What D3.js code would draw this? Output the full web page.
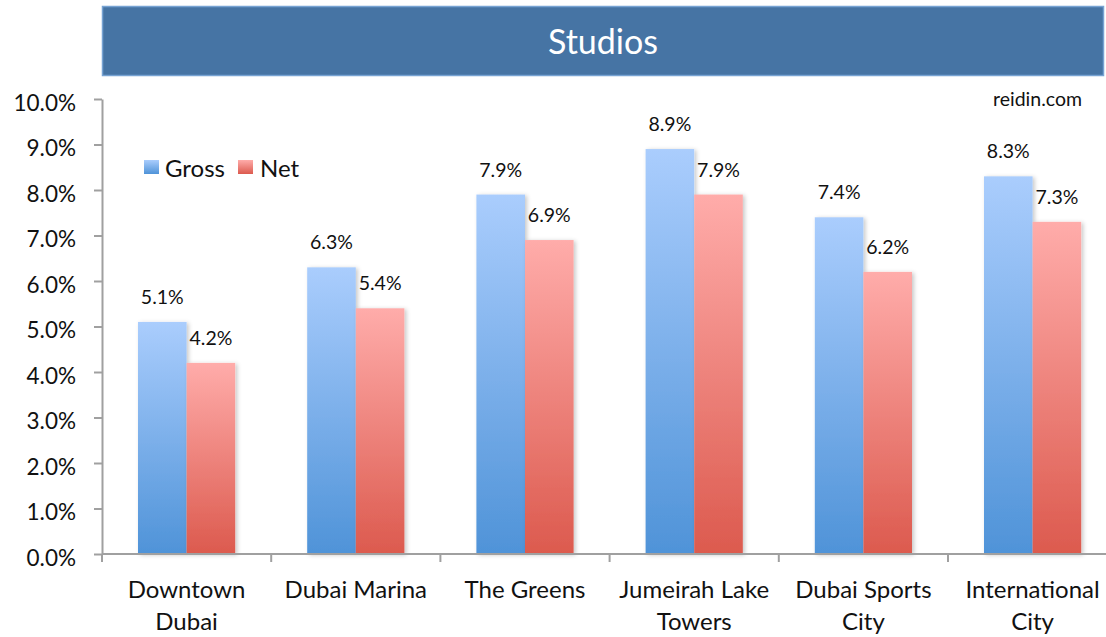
<!DOCTYPE html>
<html>
<head>
<meta charset="utf-8">
<script src="https://cdn.jsdelivr.net/npm/d3@7"></script>
<style>
  html, body { margin: 0; padding: 0; background: #fff; }
  svg { display: block; font-family: Lato, "Open Sans", sans-serif; }
</style>
</head>
<body>
<svg id="chart" width="1106" height="637"></svg>
<script>
// Studio rental yields by area (percent)
const categories = ["Downtown Dubai", "Dubai Marina", "The Greens", "Jumeirah Lake Towers", "Dubai Sports City", "International City"];
const categoryLines = [["Downtown", "Dubai"], ["Dubai Marina"], ["The Greens"], ["Jumeirah Lake", "Towers"], ["Dubai Sports", "City"], ["International", "City"]];
const seriesNames = ["Gross", "Net"];
const gross = [5.1, 6.3, 7.9, 8.9, 7.4, 8.3];
const net = [4.2, 5.4, 6.9, 7.9, 6.2, 7.3];
const yTicks = [0, 1, 2, 3, 4, 5, 6, 7, 8, 9, 10];
const title = "Studios";
const source = "reidin.com";

const svg = d3.select("#chart");
const W = 1106;
const plotLeft = 102, plotBottom = 554, plotTop = 99;
const bandW = 169.2;

const x = d3.scaleBand().domain(categories).range([plotLeft, plotLeft + bandW * categories.length]).padding(0);
const xs = d3.scaleBand().domain(seriesNames).range([36, bandW - 36]).padding(0);
const y = d3.scaleLinear().domain([0, 10]).range([plotBottom, plotTop]);

const defs = svg.append("defs");
const grads = {
  Gross: ["#aacdfd", "#4f93d8"],
  Net: ["#ffacaa", "#dc5a4e"]
};
Object.entries(grads).forEach(([k, c]) => {
  const g = defs.append("linearGradient").attr("id", "g-" + k)
    .attr("x1", 0).attr("y1", 0).attr("x2", 0).attr("y2", 1);
  g.append("stop").attr("offset", "0%").attr("stop-color", c[0]);
  g.append("stop").attr("offset", "100%").attr("stop-color", c[1]);
});
const f = defs.append("filter").attr("id", "shadow")
  .attr("x", "-20%").attr("y", "-20%").attr("width", "140%").attr("height", "140%");
f.append("feDropShadow").attr("dx", 2).attr("dy", 1).attr("stdDeviation", 2)
  .attr("flood-color", "#000").attr("flood-opacity", 0.22);

// Title banner
svg.append("rect")
  .attr("x", 102.5).attr("y", 6.5).attr("width", 1001).attr("height", 69)
  .attr("fill", "#4674a4").attr("stroke", "#77a3d3").attr("stroke-width", 1.5);
svg.append("text")
  .attr("x", 603).attr("y", 42).attr("dy", "0.35em")
  .attr("text-anchor", "middle").attr("fill", "#fff")
  .attr("font-size", 34).text(title);

// Source note
svg.append("text")
  .attr("x", 1082).attr("y", 106).attr("text-anchor", "end")
  .attr("font-size", 19.5).attr("fill", "#111").text(source);

// Bars
const rows = categories.map((c, i) => ({ c, vals: [{ k: "Gross", v: gross[i] }, { k: "Net", v: net[i] }] }));
const groups = svg.append("g").selectAll("g").data(rows).join("g")
  .attr("transform", d => `translate(${x(d.c)},0)`);

groups.selectAll("rect").data(d => d.vals).join("rect")
  .attr("x", d => xs(d.k))
  .attr("y", d => y(d.v))
  .attr("width", xs.bandwidth())
  .attr("height", d => y(0) - y(d.v))
  .attr("fill", d => `url(#g-${d.k})`)
  .attr("filter", "url(#shadow)");

groups.selectAll("text.val").data(d => d.vals).join("text")
  .attr("class", "val")
  .attr("x", d => xs(d.k) + xs.bandwidth() / 2)
  .attr("y", d => y(d.v) - 18)
  .attr("text-anchor", "middle")
  .attr("font-size", 19.5).attr("fill", "#111")
  .text(d => d.v.toFixed(1) + "%");

// Y axis
const yAxis = svg.append("g").attr("transform", `translate(${plotLeft},0)`)
  .call(d3.axisLeft(y).tickValues(yTicks).tickSize(8).tickSizeOuter(0)
    .tickFormat(d => d.toFixed(1) + "%").tickPadding(18));
yAxis.select(".domain").attr("stroke", "#a0a0a0").attr("stroke-width", 2);
yAxis.selectAll(".tick line").attr("stroke", "#a0a0a0").attr("stroke-width", 2);
yAxis.selectAll(".tick text").attr("font-size", 22.5).attr("fill", "#111")
  .attr("font-family", "Lato, sans-serif").attr("dy", "0.5em");

// X axis
const xAxis = svg.append("g");
xAxis.append("line")
  .attr("x1", plotLeft).attr("x2", W).attr("y1", plotBottom).attr("y2", plotBottom)
  .attr("stroke", "#a0a0a0").attr("stroke-width", 2);
xAxis.selectAll("line.tk").data(categories).join("line")
  .attr("class", "tk")
  .attr("x1", d => x(d)).attr("x2", d => x(d))
  .attr("y1", plotBottom).attr("y2", plotBottom + 8)
  .attr("stroke", "#a0a0a0").attr("stroke-width", 2);
xAxis.selectAll("text").data(categories).join("text")
  .attr("x", d => x(d) + x.bandwidth() / 2)
  .attr("y", 598)
  .attr("text-anchor", "middle").attr("font-size", 24).attr("fill", "#111")
  .each(function (d, i) {
    d3.select(this).selectAll("tspan").data(categoryLines[i]).join("tspan")
      .attr("x", x(d) + x.bandwidth() / 2)
      .attr("dy", (t, j) => j === 0 ? 0 : 32)
      .text(t => t);
  });

// Legend
const legend = svg.append("g");
const legItems = [{ k: "Gross", x: 144, tx: 165 }, { k: "Net", x: 238, tx: 260 }];
legend.selectAll("rect").data(legItems).join("rect")
  .attr("x", d => d.x).attr("y", 160).attr("width", 15).attr("height", 14)
  .attr("fill", d => `url(#g-${d.k})`);
legend.selectAll("text").data(legItems).join("text")
  .attr("x", d => d.tx).attr("y", 177)
  .attr("font-size", 24).attr("fill", "#111")
  .text(d => d.k);
</script>
</body>
</html>
